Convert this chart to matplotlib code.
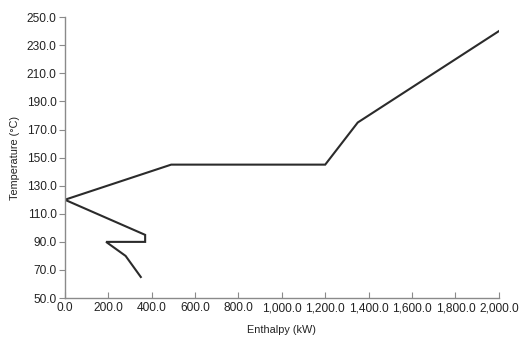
import matplotlib
matplotlib.use("Agg")
import matplotlib.pyplot as plt
from matplotlib.ticker import FuncFormatter

# Composite curve: enthalpy (kW) vs temperature (°C)
enthalpy = [350, 280, 190, 370, 370, 0, 490, 1200, 1350, 2000]
temperature = [65, 80, 90, 90, 95, 120, 145, 145, 175, 240]

x_ticks = [0, 200, 400, 600, 800, 1000, 1200, 1400, 1600, 1800, 2000]
y_ticks = [50, 70, 90, 110, 130, 150, 170, 190, 210, 230, 250]

plt.rcParams['font.family'] = ['Liberation Sans', 'DejaVu Sans']

fig = plt.figure(figsize=(5.19, 3.43), dpi=100)
ax = fig.add_axes([0.125, 0.131, 0.836, 0.819])

ax.plot(enthalpy, temperature, color='#2b2b2b', linewidth=1.5, solid_joinstyle='miter')

ax.set_xlim(0, 2000)
ax.set_ylim(50, 250)
ax.set_xticks(x_ticks)
ax.set_yticks(y_ticks)
ax.xaxis.set_major_formatter(FuncFormatter(lambda v, p: f"{v:,.1f}"))
ax.yaxis.set_major_formatter(FuncFormatter(lambda v, p: f"{v:.1f}"))

for side in ('top', 'right'):
    ax.spines[side].set_visible(False)
for side in ('left', 'bottom'):
    ax.spines[side].set_color('#8a8a8a')
    ax.spines[side].set_linewidth(1.0)

ax.tick_params(axis='x', direction='in', length=4, color='#8a8a8a',
               labelsize=8.6, labelcolor='#222222', pad=3)
ax.tick_params(axis='y', direction='out', length=4, color='#8a8a8a',
               labelsize=8.6, labelcolor='#222222', pad=2)

ax.set_xlabel('Enthalpy (kW)', fontsize=7.8, color='#222222', labelpad=8)
ax.set_ylabel('Temperature (°C)', fontsize=7.8, color='#222222', labelpad=5)

fig.savefig('out.png', dpi=100, facecolor='white')
